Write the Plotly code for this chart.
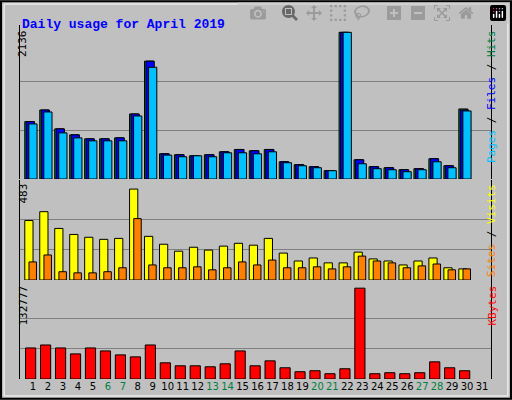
import plotly.graph_objects as go

days = list(range(1, 32))
hits = [836, 1005, 730, 643, 585, 585, 599, 947, 1716, 367, 353, 338, 353, 396, 430,
        411, 430, 251, 208, 179, 121, 2136, 280, 179, 164, 135, 150, 295, 193, 1020]
files = [836, 1005, 730, 643, 585, 585, 599, 947, 1716, 367, 353, 338, 353, 396, 430,
         411, 430, 251, 208, 179, 121, 2136, 280, 179, 164, 135, 150, 295, 193, 1005]
pages = [802, 976, 672, 599, 556, 556, 556, 918, 1628, 348, 324, 338, 324, 382, 382,
         367, 396, 237, 193, 164, 121, 2136, 222, 150, 135, 106, 135, 251, 164, 991]
sites = [316, 363, 274, 242, 227, 216, 221, 483, 232, 190, 153, 174, 159, 180, 195,
         185, 221, 143, 101, 117, 91, 91, 148, 112, 101, 80, 101, 117, 65, 59]
visits = [96, 133, 44, 38, 38, 44, 65, 326, 80, 65, 65, 70, 54, 65, 96,
          80, 106, 65, 65, 70, 59, 70, 127, 101, 91, 65, 75, 85, 54, 59]
kbytes = [45385, 49730, 45385, 36695, 45385, 41040, 35246, 32349, 49730, 23658, 19313,
          19313, 17864, 22210, 41040, 19313, 26555, 16416, 10622, 12070, 7725, 14967,
          132777, 7725, 9174, 7725, 9174, 25107, 16416, 12070]
weekend = [6, 7, 13, 14, 20, 21, 27, 28]
max_hits, max_sites, max_kb = 2136, 483, 132777

d30 = days[:30]
fig = go.Figure()
line = dict(color="black", width=1)

def bar(y, color, off, w, ax):
    fig.add_bar(x=d30, y=y, marker=dict(color=color, line=line), offset=off, width=w,
                xaxis="x", yaxis=ax, hoverinfo="y")

bar(hits, "#008040", -0.55, 0.6, "y")
bar(files, "#0000FF", -0.45, 0.55, "y")
bar(pages, "#00C0FF", -0.28, 0.55, "y")
bar(sites, "#FFFF00", -0.55, 0.55, "y2")
bar(visits, "#FF8000", -0.27, 0.5, "y2")
bar(kbytes, "#FF0000", -0.5, 0.68, "y3")

xd = [20 / 512, 491 / 512]
yax = dict(showticklabels=False, ticks="", gridcolor="#808080", zeroline=False,
           showline=True, linecolor="black", mirror=True, fixedrange=True)
ticktext = ['<span style="color:#008040">%d</span>' % d if d in weekend else str(d) for d in days]
fig.update_layout(
    width=512, height=400, margin=dict(l=0, r=0, t=0, b=0),
    paper_bgcolor="#C0C0C0", plot_bgcolor="#C0C0C0", showlegend=False, barmode="overlay",
    font=dict(family="DejaVu Sans Mono", size=11, color="black"),
    xaxis=dict(domain=xd, range=[0.13, 31.6], tickvals=days, ticktext=ticktext,
               showgrid=False, ticks="", anchor="y3", tickangle=0, automargin=False,
               tickfont=dict(family="DejaVu Sans", size=10)),
    yaxis=dict(domain=[1 - 179 / 400, 1 - 25 / 400], range=[0, max_hits * 1.05],
               tickvals=[max_hits / 3, max_hits * 2 / 3], **yax),
    yaxis2=dict(domain=[1 - 280 / 400, 1 - 180 / 400], range=[0, max_sites * 1.1],
                tickvals=[max_sites / 3, max_sites * 2 / 3], **yax),
    yaxis3=dict(domain=[1 - 379 / 400, 1 - 280 / 400], range=[0, max_kb * 1.09],
                tickvals=[max_kb / 3, max_kb * 2 / 3], **yax),
)
ann = [
    dict(x=20, y=15, text="<b>Daily usage for April 2019</b>", xanchor="left",
         font=dict(family="Liberation Mono", size=13, color="#0000FF")),
    dict(x=14, y=28, text=str(max_hits), textangle=-90, yanchor="top"),
    dict(x=14, y=182, text=str(max_sites), textangle=-90, yanchor="top"),
    dict(x=14, y=284, text=str(max_kb), textangle=-90, yanchor="top"),
    dict(x=500, y=28, textangle=-90, yanchor="top",
         text='<span style="color:#00C0FF">Pages</span> / <span style="color:#0000FF">Files</span>'
              ' / <span style="color:#008040">Hits</span>'),
    dict(x=500, y=182, textangle=-90, yanchor="top",
         text='<span style="color:#FF8000">Sites</span> / <span style="color:#FFFF00">Visits</span>'),
    dict(x=500, y=284, textangle=-90, yanchor="top",
         text='<span style="color:#FF0000">KBytes</span>'),
]
for a in ann:
    a.update(xref="paper", yref="paper", showarrow=False, x=a["x"] / 512, y=1 - a["y"] / 400)
fig.update_layout(annotations=ann)
fig.add_shape(type="rect", xref="paper", yref="paper", x0=0.002, y0=0.003, x1=0.998, y1=0.997,
              line=dict(color="black", width=2))
fig.add_shape(type="rect", xref="paper", yref="paper", x0=0.008, y0=0.01, x1=0.992, y1=0.99,
              line=dict(color="white", width=1))
fig.write_html("out.html", post_script="document.body.style.margin='0';")
